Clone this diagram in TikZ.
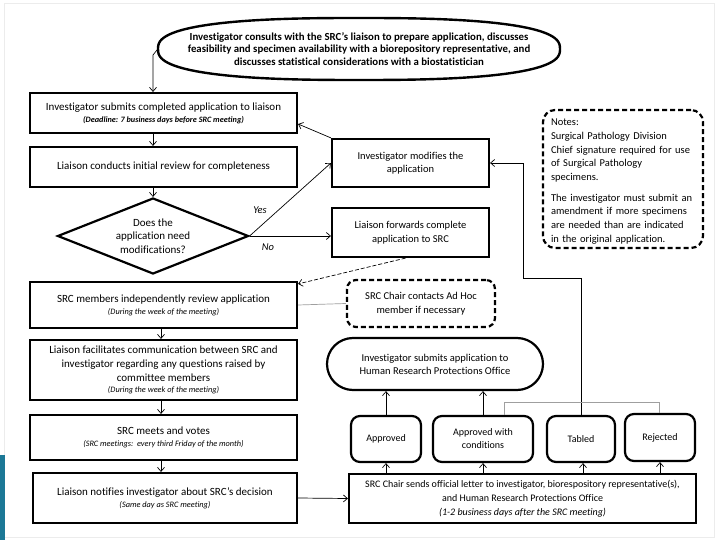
\documentclass[tikz,border=0pt]{standalone}
\usepackage{fontspec}
\setmainfont{Carlito}[Ligatures={NoCommon,TeX}]
\usetikzlibrary{shapes.geometric,arrows.meta,calc}
\definecolor{barblue}{HTML}{1C7896}
\newcommand{\smit}[1]{{\fontsize{8.3}{10}\selectfont\itshape #1}}
\begin{document}
\begin{tikzpicture}[x=1pt,y=-1pt,
  box/.style={draw, line width=2.2pt, align=center, inner sep=2pt, font=\fontsize{11}{14}\selectfont},
  rbox/.style={box, font=\fontsize{10.5}{13.5}\selectfont},
  roundbox/.style={box, rounded corners=9pt, font=\fontsize{10}{13}\selectfont},
  dbox/.style={box, dash pattern=on 5pt off 3pt, rounded corners=12pt},
  conn/.style={line width=0.7pt, -{Straight Barb[length=4pt,width=7pt]}},
  plainlink/.style={line width=0.7pt, draw=gray!75},
  lbl/.style={font=\fontsize{10.5}{12}\selectfont\itshape, inner sep=0pt},
]
\useasboundingbox (0,0) rectangle (720,540);
\fill[white] (0,0) rectangle (720,540);
\draw[gray!15, line width=0.8pt] (4,3) rectangle (714,537);
\fill[barblue] (0,455) rectangle (5,540);

% top superellipse with its text
\node[inner sep=0pt, minimum width=402pt, minimum height=62pt, align=center,
  font=\bfseries\fontsize{10.8}{12.3}\selectfont] (consult) at (359,49)
  {Investigator consults with the SRC’s liaison to prepare application, discusses\\
   feasibility and specimen availability with a biorepository representative, and\\
   discusses statistical considerations with a biostatistician};
\draw[line width=2.4pt, line join=round] plot[domain=0.5:360.5, samples=121, variable=\t, smooth]
  ({359+201*sign(cos(\t))*pow(abs(cos(\t)),0.77)}, {49+31*sign(sin(\t))*pow(abs(sin(\t)),0.77)}) -- cycle;

% left column
\node[box, minimum width=267pt, minimum height=40pt] (submit) at (163.5,113)
  {Investigator submits completed application to liaison\\[-2pt]
   {\fontsize{8.2}{10}\selectfont\bfseries\itshape (Deadline: 7 business days before SRC meeting)}};
\node[box, minimum width=267pt, minimum height=40pt] (review) at (163.5,167)
  {Liaison conducts initial review for completeness};
\node[draw, diamond, aspect=2.5, line width=2.2pt, inner sep=0pt, minimum width=191pt, minimum height=76pt,
  align=center, font=\fontsize{11}{13.5}\selectfont] (need) at (153,236)
  {Does the\\application need\\modifications?};
\node[box, minimum width=267pt, minimum height=46pt] (indep) at (163.5,305)
  {SRC members independently review application\\[-2pt]\smit{(During the week of the meeting)}};
\node[box, minimum width=267pt, minimum height=60pt] (facil) at (163.5,370)
  {Liaison facilitates communication between SRC and\\investigator regarding any questions raised by\\committee members\\[-3pt]
   \smit{(During the week of the meeting)}};
\node[box, minimum width=267pt, minimum height=45pt] (vote) at (163.5,437.5)
  {SRC meets and votes\\[-2pt]\smit{(SRC meetings:\ \ every third Friday of the month)}};
\node[box, minimum width=264pt, minimum height=50pt] (notify) at (165,498)
  {Liaison notifies investigator about SRC’s decision\\[-2pt]\smit{(Same day as SRC meeting)}};

% middle column
\node[rbox, minimum width=157pt, minimum height=48pt] (modify) at (410.5,163)
  {Investigator modifies the\\application};
\node[rbox, minimum width=157pt, minimum height=49pt] (forward) at (410.5,232.5)
  {Liaison forwards complete\\application to SRC};
\node[rbox, dash pattern=on 5pt off 3pt, rounded corners=9pt, minimum width=148pt, minimum height=47pt] (adhoc) at (421,303.5)
  {SRC Chair contacts Ad Hoc\\member if necessary};
\node[rbox, rounded corners=26pt, minimum width=216pt, minimum height=52pt, font=\fontsize{10.5}{13}\selectfont] (hrpo) at (435,364)
  {Investigator submits application to\\Human Research Protections Office};

% notes
\node[dbox, minimum width=160pt, minimum height=138pt, text width=144pt, align=left,
  font=\fontsize{10.5}{13.7}\selectfont] (notes) at (623,179)
  {\rule{0pt}{12pt}Notes:\\Surgical Pathology Division\\Chief signature required for use\\of Surgical Pathology\\specimens.\\[7pt]
   The investigator must submit an\\amendment if more specimens\\are needed than are indicated\\in the original application.};

% decision boxes
\node[roundbox, minimum width=70pt, minimum height=46pt] (appr) at (386,439) {Approved};
\node[roundbox, minimum width=100pt, minimum height=46pt] (apprc) at (483,439) {Approved with\\conditions};
\node[roundbox, minimum width=68pt, minimum height=46pt] (tabled) at (581,439) {Tabled};
\node[roundbox, minimum width=70pt, minimum height=47pt] (reject) at (660,437.5) {Rejected};
\node[box, minimum width=347pt, minimum height=49pt, font=\fontsize{10}{14.5}\selectfont] (letter) at (522.5,498.5)
  {SRC Chair sends official letter to investigator, biorespository representative(s),\\
   and Human Research Protections Office\\[-1pt]
   {\itshape (1-2 business days after the SRC meeting)}};

% connectors
\coordinate (c1) at (153,55);
\draw[conn] (consult.west) -- (c1) -- (c1 |- submit.north);
\draw[conn] (need.north |- submit.south) -- (need.north |- review.north);
\draw[conn] (need.north |- review.south) -- (need.north);
\draw[conn] (need.east) -- (modify.west);
\draw[conn] (need.east) -- (need.east -| forward.west);
\node[lbl] (yes) at (260,210) {Yes};
\node[lbl] (no) at (268,247) {No};
\draw[conn] (modify.north west) -- ($(submit.east)+(0,11)$);
\draw[conn, dash pattern=on 4pt off 2pt] ($(forward.south)+(-5,0)$) -- ($(indep.north east)+(0,3)$);
\draw[plainlink] (indep.east) -- (adhoc.west);
\draw[conn] ($(indep.south)+(-2.5,0)$) -- ($(facil.north)+(-2.5,0)$);
\draw[conn] ($(facil.south)+(-2.5,0)$) -- ($(vote.north)+(-2.5,0)$);
\draw[conn] ($(vote.south)+(-2.5,0)$) -- ($(notify.north)+(-4,0)$);
\draw[conn] (notify.east) -- (letter.west);
\draw[conn] (appr.south |- letter.north) -- (appr.south);
\draw[conn] (apprc.south |- letter.north) -- (apprc.south);
\draw[conn] ($(tabled.south |- letter.north)+(2,0)$) -- ($(tabled.south)+(2,0)$);
\draw[conn] (reject.south |- letter.north) -- (reject.south);
\draw[conn] (appr.north) -- (appr.north |- hrpo.south);
\draw[conn] (apprc.north) -- (apprc.north |- hrpo.south);
\coordinate (t1) at (581,278);
\coordinate (t2) at (523,278);
\draw[conn] (tabled.north) -- (t1) -- (t2) -- (t2 |- modify.east) -- (modify.east);
\coordinate (g1) at (504,402);
\coordinate (g2) at (659,402);
\draw[plainlink] (g1 |- apprc.north) -- (g1) -- (g2) -- (g2 |- reject.north);
\end{tikzpicture}
\end{document}
